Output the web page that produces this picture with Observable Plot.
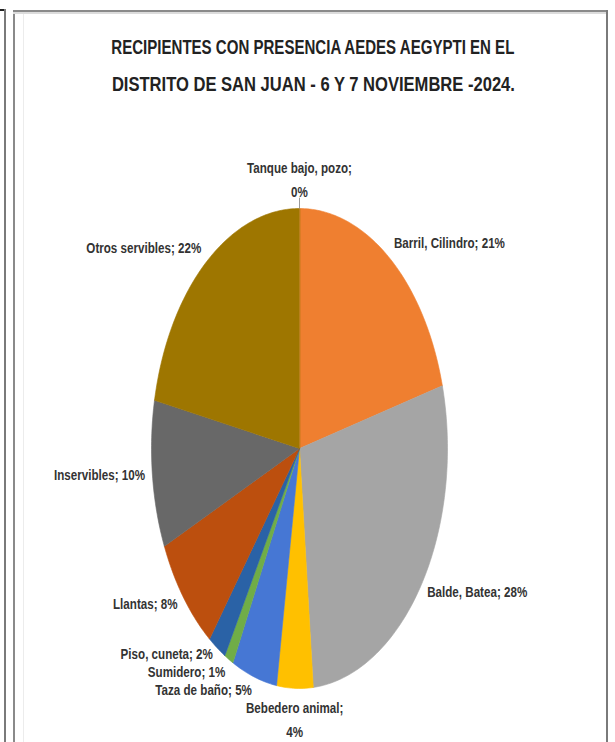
<!DOCTYPE html>
<html><head><meta charset="utf-8">
<script src="https://cdn.jsdelivr.net/npm/d3@7"></script>
<script src="https://cdn.jsdelivr.net/npm/@observablehq/plot@0.6"></script>
<style>
body{margin:0;background:#fff;}
#wrap{position:relative;width:615px;height:742px;overflow:hidden;background:#fff;}
.ln{position:absolute;}
.t{position:absolute;white-space:nowrap;font-family:"Liberation Sans",Arial,sans-serif;font-weight:bold;font-size:20px;color:#222;line-height:1;transform-origin:center center;}
#plot{position:absolute;left:0;top:0;}
</style></head><body>
<div id="wrap">
  <div class="ln" style="left:0;top:9px;width:6px;height:2px;background:#222"></div>
  <div class="ln" style="left:4px;top:9px;width:2px;height:733px;background:#7a7a7a"></div>
  <div class="ln" style="left:13px;top:10px;width:2px;height:732px;background:#8a8a8a"></div>
  <div class="ln" style="left:13px;top:10px;width:595px;height:2px;background:#8a8a8a"></div>
  <div class="ln" style="left:13px;top:12px;width:595px;height:2px;background:#dcdcdc"></div>
  <div class="ln" style="left:606px;top:10px;width:2px;height:732px;background:#7a7a7a"></div>
  <div class="ln" style="left:23px;top:14px;width:1px;height:728px;background:#ececec"></div>
  <div id="plot"></div>
  <div id="title"></div>
</div>
<script>
const categories = ["Tanque bajo, pozo","Barril, Cilindro","Balde, Batea","Bebedero animal","Taza de baño","Sumidero","Piso, cuneta","Llantas","Inservibles","Otros servibles"];
const percentages = [0,21,28,4,5,1,2,8,10,22];
const sliceColors = ["#4472C4","#EF7F30","#A5A5A5","#FFC000","#4677D4","#70AD47","#2A62A6","#BC4F0E","#686868","#9E7600"];
const wrappedLabels = ["Tanque bajo, pozo","Bebedero animal"];
const titleLines = ["RECIPIENTES CON PRESENCIA AEDES AEGYPTI EN EL","DISTRITO DE SAN JUAN - 6 Y 7 NOVIEMBRE -2024."];

const X_RANGE = [151, 447], Y_RANGE = [688, 208];
const xs = d3.scaleLinear([-1,1], X_RANGE), ys = d3.scaleLinear([-1,1], Y_RANGE);
const LABEL_FONT = 14, LABEL_SQUEEZE = 0.83, LINE_H = 1.7;
const FONT = '"Liberation Sans",Arial,sans-serif';

const rows = categories.map((c,i)=>({cat:c, value:percentages[i]}));
const arcs = d3.pie().sort(null).value(d=>d.value)(rows);

// slice polygons (unit circle; the x/y scales stretch it into the ellipse)
const poly = [];
arcs.filter(a=>a.data.value>0).forEach(a=>{
  const c = a.data.cat;
  poly.push({cat:c, x:0, y:0});
  const n = Math.max(2, Math.ceil((a.endAngle-a.startAngle)/(Math.PI/180)));
  for(let i=0;i<=n;i++){
    const t = a.startAngle + (a.endAngle-a.startAngle)*i/n;
    poly.push({cat:c, x:Math.sin(t), y:Math.cos(t)});
  }
});

// labels at outside end, with a simple overlap pass
const ctx = document.createElement("canvas").getContext("2d");
ctx.font = `bold ${LABEL_FONT}px ${FONT}`;
const k = 1.05;
const labels = arcs.map(a=>{
  const m = (a.startAngle+a.endAngle)/2;
  const s = Math.sin(m), c = Math.cos(m);
  const sep = wrappedLabels.includes(a.data.cat) ? ";\n" : "; ";
  const text = a.data.cat + sep + a.data.value + "%";
  const lines = text.split("\n");
  const n = lines.length;
  const lh = n>1 ? LINE_H : 1;
  const w = d3.max(lines, l=>ctx.measureText(l).width) * LABEL_SQUEEZE;
  const h = LABEL_FONT * (1 + (n-1)*lh);
  const ta = s>0.25 ? "start" : s<-0.25 ? "end" : "middle";
  const la = c>0.5 ? "bottom" : c<-0.9 ? "top" : "middle";
  return {cat:a.data.cat, text, n, lh, px:xs(k*s), py:ys(k*c), w, h, ta, la};
});
function box(d){
  const x0 = d.ta==="start" ? d.px : d.ta==="end" ? d.px-d.w : d.px-d.w/2;
  const y0 = d.la==="top" ? d.py : d.la==="bottom" ? d.py-d.h : d.py-d.h/2;
  return [x0, y0, x0+d.w, y0+d.h];
}
const GAP = 4;
for(let iter=0; iter<20; iter++){
  let moved=false;
  for(let i=0;i<labels.length;i++) for(let j=i+1;j<labels.length;j++){
    const a=box(labels[i]), b=box(labels[j]);
    const ox = Math.min(a[2],b[2]) - Math.max(a[0],b[0]);
    const oy = Math.min(a[3],b[3]) - Math.max(a[1],b[1]);
    if(ox>-GAP && oy>-GAP && (ox>0 || oy>0)){
      if(ox < oy){
        const push = (ox+GAP)/2;
        const lf = labels[i].px < labels[j].px ? labels[i] : labels[j];
        const rt = lf===labels[i] ? labels[j] : labels[i];
        lf.px -= push; rt.px += push;
      } else {
        const push = (oy+GAP)/2;
        const up = labels[i].py < labels[j].py ? labels[i] : labels[j];
        const dn = up===labels[i] ? labels[j] : labels[i];
        up.py -= push; dn.py += push;
      }
      moved=true;
    }
  }
  if(!moved) break;
}
// Plot's top anchor puts the first baseline at 0.71*lineHeight em; keep the box top where intended
labels.forEach(d=>{
  const corr = d.la==="top" ? 0.71*(d.lh-1)*LABEL_FONT : 0;
  d.x = xs.invert(d.px); d.y = ys.invert(d.py - corr);
});

const groups = d3.groups(labels, d=>d.ta+"|"+d.la+"|"+d.lh);
const labelMarks = groups.map(([key, arr])=>{
  const [ta, la, lh] = key.split("|");
  return Plot.text(arr, {x:"x", y:"y", text:"text", textAnchor:ta, lineAnchor:la,
    fontFamily:FONT, fontWeight:"bold", fontSize:LABEL_FONT, fill:"#333", lineHeight:+lh});
});
const leaders = arcs.filter(a=>a.data.value===0).map(a=>{
  const m=(a.startAngle+a.endAngle)/2;
  return {x1:Math.sin(m), y1:Math.cos(m), x2:1.045*Math.sin(m), y2:1.045*Math.cos(m)};
});

const chart = Plot.plot({
  width:615, height:742,
  marginTop:0, marginRight:0, marginBottom:0, marginLeft:0,
  x:{domain:[-1,1], range:X_RANGE, axis:null},
  y:{domain:[-1,1], range:Y_RANGE, axis:null},
  color:{domain:categories, range:sliceColors},
  style:{background:"transparent", overflow:"visible"},
  marks:[
    Plot.line(poly, {x:"x", y:"y", z:"cat", fill:"cat", stroke:"cat", strokeWidth:0.6, curve:"linear-closed"}),
    Plot.link(leaders, {x1:"x1", y1:"y1", x2:"x2", y2:"y2", stroke:"#9a9a9a", strokeWidth:1}),
    ...labelMarks
  ]
});
document.getElementById("plot").appendChild(chart);

// condense label glyphs horizontally around their anchor point
chart.querySelectorAll('g[aria-label="text"] text').forEach(t=>{
  const tr = t.getAttribute("transform");
  if(tr){
    t.setAttribute("transform", tr + ` scale(${LABEL_SQUEEZE},1)`);
  } else {
    const x = +t.getAttribute("x") || 0, y = +t.getAttribute("y") || 0;
    t.setAttribute("transform", `translate(${x},${y}) scale(${LABEL_SQUEEZE},1) translate(${-x},${-y})`);
  }
});

// title
const tEl = document.getElementById("title");
const centersY = [47, 84];
titleLines.forEach((line,i)=>{
  const d = document.createElement("div");
  d.className = "t";
  d.textContent = line;
  tEl.appendChild(d);
  const r = d.getBoundingClientRect();
  const sx = 403 / r.width;
  d.style.left = (313 - r.width/2) + "px";
  d.style.top = (centersY[i] - r.height/2) + "px";
  d.style.transform = `scaleX(${sx})`;
});
</script>
</body></html>
